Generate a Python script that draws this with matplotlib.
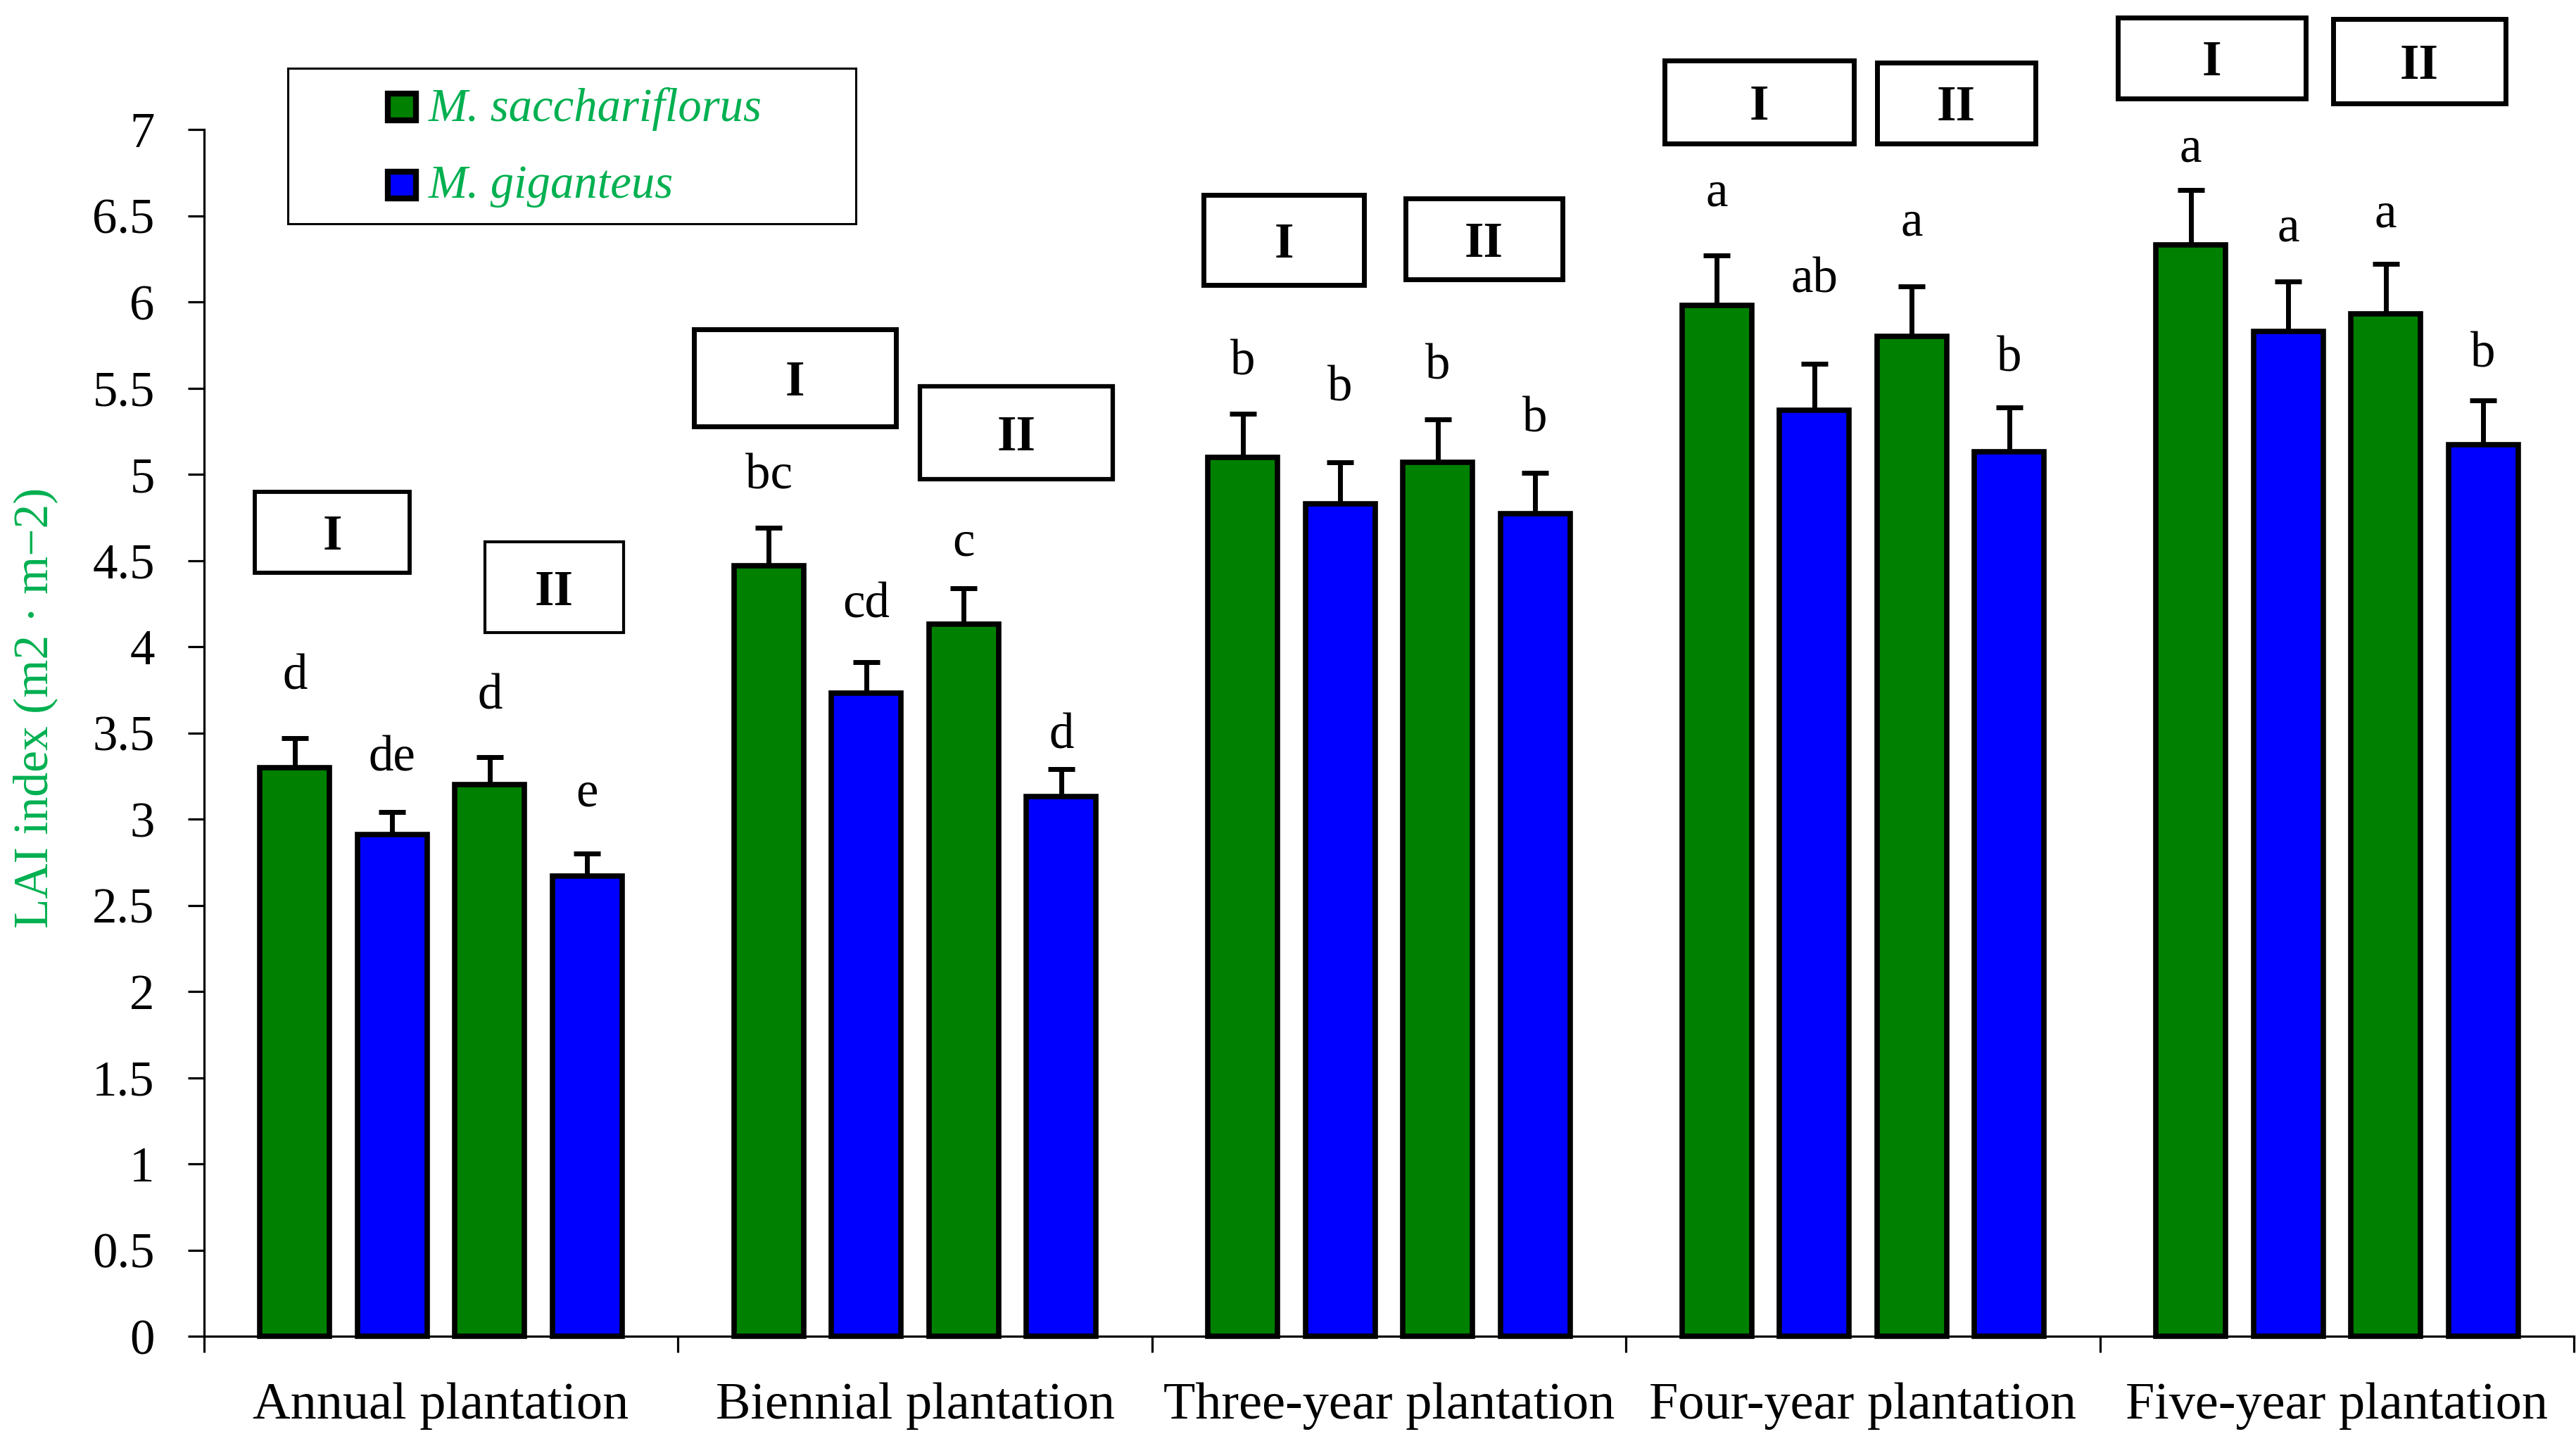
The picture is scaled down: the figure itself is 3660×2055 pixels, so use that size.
import matplotlib
matplotlib.use("Agg")
import matplotlib.pyplot as plt
from matplotlib.patches import Rectangle
import numpy as np

plt.rcParams['font.family'] = ['Liberation Serif', 'DejaVu Serif']

# data
groups = ["Annual plantation", "Biennial plantation", "Three-year plantation",
          "Four-year plantation", "Five-year plantation"]
species = ["M. sacchariflorus", "M. giganteus"]

# per group the bars are: sacchariflorus I, giganteus I, sacchariflorus II, giganteus II
sacch_I = [3.30, 4.47, 5.10, 5.98, 6.33]
gig_I = [2.91, 3.73, 4.83, 5.37, 5.83]
sacch_II = [3.20, 4.13, 5.07, 5.80, 5.93]
gig_II = [2.67, 3.13, 4.77, 5.13, 5.17]

err_sacch_I = [0.17, 0.22, 0.25, 0.29, 0.32]
err_gig_I = [0.13, 0.18, 0.24, 0.27, 0.29]
err_sacch_II = [0.16, 0.21, 0.25, 0.29, 0.29]
err_gig_II = [0.13, 0.16, 0.24, 0.26, 0.26]

let_sacch_I = ["d", "bc", "b", "a", "a"]
let_gig_I = ["de", "cd", "b", "ab", "a"]
let_sacch_II = ["d", "c", "b", "a", "a"]
let_gig_II = ["e", "d", "b", "b", "b"]

# gap (points) between error cap and letter baseline, as placed in the original
gap_sacch_I = [50, 40, 40, 51, 29]
gap_gig_I = [42, 46, 63, 73, 41]
gap_sacch_II = [49, 33, 41, 52, 38]
gap_gig_II = [49, 21, 42, 37, 34]

GREEN = "#008000"
BLUE = "#0000FF"
LABEL_GREEN = "#00B050"
FS = 51

fig = plt.figure(figsize=(36.6, 20.55), dpi=100)
ax = fig.add_axes([0.0792, 0.0759, 0.920, 0.8345])

x = np.arange(len(groups))
step = 0.2056
width = 0.147
series = [
    (sacch_I, err_sacch_I, let_sacch_I, gap_sacch_I, GREEN, -1.5),
    (gig_I, err_gig_I, let_gig_I, gap_gig_I, BLUE, -0.5),
    (sacch_II, err_sacch_II, let_sacch_II, gap_sacch_II, GREEN, 0.5),
    (gig_II, err_gig_II, let_gig_II, gap_gig_II, BLUE, 1.5),
]

for vals, errs, lets, gaps, col, k in series:
    xs = x + k * step
    ax.errorbar(xs, vals, yerr=[np.zeros(len(errs)), errs], fmt='none',
                ecolor='black', elinewidth=5, capsize=13.5, capthick=5, zorder=2)
    ax.bar(xs, vals, width=width, color=col, edgecolor='black',
           linewidth=5.5, zorder=3, clip_on=False)
    for xi, v, e, t, g in zip(xs, vals, errs, lets, gaps):
        ax.annotate(t, (xi, v + e), xytext=(0, g), textcoords='offset points',
                    ha='center', va='baseline', fontsize=FS)

# "I" / "II" boxes above each group (x0, x1, y_bottom, y_top, line width)
boxes = [
    ("I", -0.393, -0.066, 4.43, 4.90, 4.2),
    ("II", 0.093, 0.385, 4.08, 4.61, 3.0),
    ("I", 0.534, 0.960, 5.28, 5.84, 5.0),
    ("II", 1.010, 1.417, 4.97, 5.51, 4.5),
    ("I", 1.609, 1.947, 6.10, 6.62, 5.0),
    ("II", 2.035, 2.366, 6.13, 6.60, 5.0),
    ("I", 2.581, 2.981, 6.92, 7.40, 5.0),
    ("II", 3.030, 3.364, 6.92, 7.39, 5.0),
    ("I", 3.538, 3.934, 7.18, 7.65, 5.0),
    ("II", 3.992, 4.356, 7.15, 7.64, 5.0),
]
for lab, x0, x1, y0, y1, lw in boxes:
    ax.add_patch(Rectangle((x0, y0), x1 - x0, y1 - y0, facecolor='white',
                           edgecolor='black', linewidth=lw, clip_on=False, zorder=5))
    ax.text((x0 + x1) / 2, (y0 + y1) / 2, lab, ha='center', va='center_baseline',
            fontsize=FS, fontweight='bold', zorder=6, clip_on=False)

# axes styling
ax.set_xlim(-0.5, len(groups) - 0.5)
ax.set_ylim(0, 7)
for s in ['top', 'right']:
    ax.spines[s].set_visible(False)
for s in ['left', 'bottom']:
    ax.spines[s].set_linewidth(2.3)

yt = np.arange(0, 7.01, 0.5)
ax.set_yticks(yt)
ax.set_yticklabels([f"{v:g}" for v in yt])
ax.tick_params(axis='y', direction='out', length=16.5, width=2.3, pad=34, labelsize=FS)

ax.set_xticks(np.arange(-0.5, len(groups), 1.0))
ax.set_xticklabels([])
ax.set_xticks(x, minor=True)
ax.set_xticklabels(groups, minor=True)
ax.tick_params(axis='x', which='major', direction='out', length=16.5, width=2.3)
ax.tick_params(axis='x', which='minor', length=0, pad=47, labelsize=53.5)

ax.set_ylabel("LAI index (m2 \u00b7 m\u22122)", fontsize=50, color=LABEL_GREEN)
ax.yaxis.set_label_coords(-0.0618, 0.521)

# legend drawn by hand in figure coordinates
fig.patches.append(Rectangle((0.1117, 0.8453), 0.2205, 0.1075, transform=fig.transFigure,
                             facecolor='none', edgecolor='black', linewidth=2.2))
leg_y = [(0.9168, 0.9163), (0.8628, 0.8633)]
for (ry, ty), col, name in zip(leg_y, [GREEN, BLUE], species):
    fig.patches.append(Rectangle((0.1505, ry), 0.01093, 0.0187, transform=fig.transFigure,
                                 facecolor=col, edgecolor='black', linewidth=6))
    fig.text(0.1664, ty, name, fontsize=48, style='italic', color=LABEL_GREEN,
             va='baseline', ha='left')

fig.savefig("out.png", dpi=100)
